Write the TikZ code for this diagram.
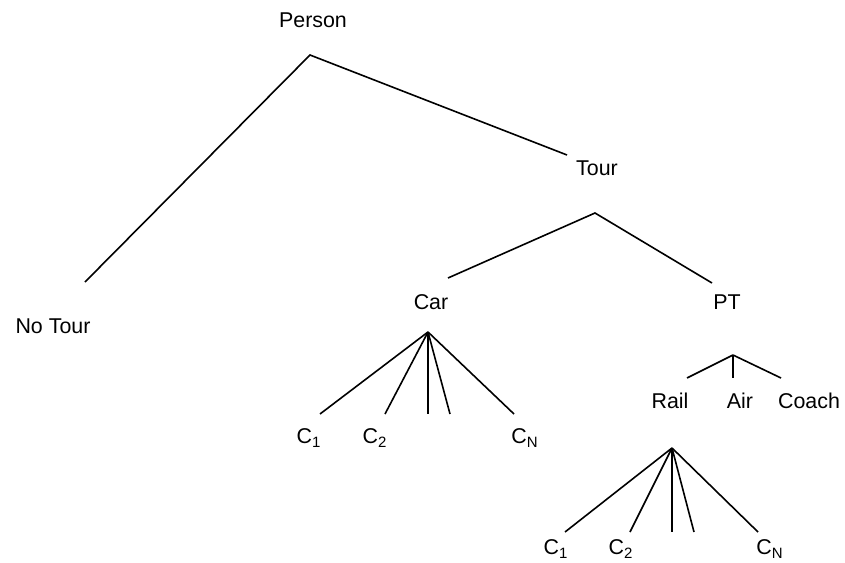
\documentclass[tikz,border=0pt]{standalone}
\usepackage{fontspec}
\setmainfont{Liberation Sans}
\usepackage{tikz}
\usetikzlibrary{positioning}

\begin{document}
\begin{tikzpicture}[x=0.5pt,y=-0.5pt,font=\fontsize{10.7}{12}\selectfont]
\tikzset{lbl/.style={inner sep=0pt,anchor=center},
branch/.style={line width=0.8pt,color=black}}
\useasboundingbox (0,0) rectangle (845,562);
% labels
\node[lbl] (person) at (313,20) {Person};
\node[lbl] (notour) at (53,326) {No Tour};
\node[lbl] (tour) at (597,168) {Tour};
\node[lbl] (car) at (431,302) {Car};
\node[lbl] (pt) at (727,302) {PT};
\node[lbl] (rail) at (670,401) {Rail};
\node[lbl] (air) at (740,401) {Air};
\node[lbl] (coach) at (809,401) {Coach};
\node[lbl] (carA) at (309,438) {C\textsubscript{1}};
\node[lbl] (carB) at (375,438) {C\textsubscript{2}};
\node[lbl] (carN) at (525,438) {C\textsubscript{N}};
\node[lbl] (railA) at (556,549) {C\textsubscript{1}};
\node[lbl] (railB) at (621,549) {C\textsubscript{2}};
\node[lbl] (railN) at (770,549) {C\textsubscript{N}};
% junctions and branch ends
\coordinate (jperson) at (310,55);
\coordinate (enotour) at (85,282);
\coordinate (etour) at (567,155);
\coordinate (jtour) at (595,213);
\coordinate (ecar) at (448,278);
\coordinate (ept) at (712,283);
\coordinate (jcar) at (428,332);
\coordinate (jpt) at (733,355);
\coordinate (jrail) at (672,448);
% branches
\draw[branch] (enotour) -- (jperson) -- (etour);
\draw[branch] (ecar) -- (jtour) -- (ept);
\foreach \x in {320,385,428,450,514}
  \draw[branch] (jcar) -- (\x,414);
\foreach \x in {687,733,781}
  \draw[branch] (jpt) -- (\x,378);
\foreach \x in {565,630,672,694,758}
  \draw[branch] (jrail) -- (\x,532);
\end{tikzpicture}
\end{document}
